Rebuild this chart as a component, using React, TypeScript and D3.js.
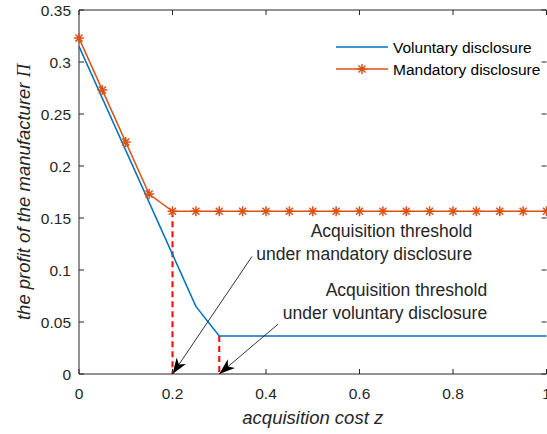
import * as d3 from "d3";

const zValues = [0, 0.05, 0.1, 0.15, 0.2, 0.25, 0.3, 0.35, 0.4, 0.45, 0.5, 0.55, 0.6, 0.65, 0.7, 0.75, 0.8, 0.85, 0.9, 0.95, 1];
const voluntary = [0.315, 0.265, 0.215, 0.165, 0.115, 0.065, 0.0365, 0.0365, 0.0365, 0.0365, 0.0365, 0.0365, 0.0365, 0.0365, 0.0365, 0.0365, 0.0365, 0.0365, 0.0365, 0.0365, 0.0365];
const mandatory = [0.323, 0.273, 0.223, 0.173, 0.1565, 0.1565, 0.1565, 0.1565, 0.1565, 0.1565, 0.1565, 0.1565, 0.1565, 0.1565, 0.1565, 0.1565, 0.1565, 0.1565, 0.1565, 0.1565, 0.1565];
const xTicks = [0, 0.2, 0.4, 0.6, 0.8, 1];
const yTicks = [0, 0.05, 0.1, 0.15, 0.2, 0.25, 0.3, 0.35];

// thresholds: z where each curve flattens, and its profit there
const thresholds = [
  { z: 0.2, value: 0.1565 },
  { z: 0.3, value: 0.0365 },
];

// annotation text + arrow start (data coords)
const notes = [
  { lines: ["Acquisition threshold", "under mandatory disclosure"], textZ: 0.841, textY: [0.1317, 0.11], fromZ: 0.37, fromY: 0.113, toZ: 0.2 },
  { lines: ["Acquisition threshold", "under voluntary disclosure"], textZ: 0.873, textY: [0.0748, 0.0528], fromZ: 0.426, fromY: 0.048, toZ: 0.3 },
];

const W = 547;
const H = 434;
const m = { left: 79, right: 0.5, top: 10, bottom: 60 };
const BLUE = "#0072BD";
const ORANGE = "#D95319";
const FONT = "Arial, 'Liberation Sans', sans-serif";

function asterisk(cx: number, cy: number, r: number) {
  const d = r * Math.SQRT1_2;
  return `M${cx - r},${cy}L${cx + r},${cy}M${cx},${cy - r}L${cx},${cy + r}M${cx - d},${cy - d}L${cx + d},${cy + d}M${cx - d},${cy + d}L${cx + d},${cy - d}`;
}

export default function App() {
  const x = d3.scaleLinear().domain([0, 1]).range([m.left, W - m.right]);
  const y = d3.scaleLinear().domain([0, 0.35]).range([H - m.bottom, m.top]);
  const line = d3.line<number>().x((_, i) => x(zValues[i])).y((v) => y(v));
  const x0 = x.range()[0];
  const x1 = x.range()[1];
  const y0 = y.range()[0];
  const y1 = y.range()[1];
  const axisColor = "#262626";

  return (
    <svg width={W} height={H} style={{ position: "absolute", left: 0, top: 0, background: "#fff" }} fontFamily={FONT}>
      <defs>
        <marker id="head" viewBox="0 0 14 10" refX="14" refY="5" markerWidth="16" markerHeight="12" markerUnits="userSpaceOnUse" orient="auto">
          <path d="M0,0 L14,5 L0,10 L4,5 Z" fill="#000" />
        </marker>
      </defs>
      {/* box */}
      <path d={`M${x0},${y1}H${x1}M${x0},${y1}V${y0}H${x1}`} stroke={axisColor} strokeWidth={1} fill="none" />
      {xTicks.map((t) => (
        <g key={`xt${t}`}>
          <line x1={x(t)} x2={x(t)} y1={y0} y2={y0 - 5} stroke={axisColor} />
          <line x1={x(t)} x2={x(t)} y1={y1} y2={y1 + 5} stroke={axisColor} />
          <text x={x(t)} y={y0 + 25} textAnchor="middle" fontSize={15.5} fill={axisColor}>{t}</text>
        </g>
      ))}
      {yTicks.map((t) => (
        <g key={`yt${t}`}>
          <line x1={x0} x2={x0 + 5} y1={y(t)} y2={y(t)} stroke={axisColor} />
          <line x1={x1} x2={x1 - 5} y1={y(t)} y2={y(t)} stroke={axisColor} />
          <text x={x0 - 8} y={y(t) + 5.5} textAnchor="end" fontSize={15.5} fill={axisColor}>{t}</text>
        </g>
      ))}
      <text x={(x0 + x1) / 2} y={y0 + 50} textAnchor="middle" fontSize={18.5} fontStyle="italic" fill={axisColor}>
        acquisition cost z
      </text>
      <text transform={`translate(30,${(y0 + y1) / 2}) rotate(-90)`} textAnchor="middle" fontSize={18.5} fontStyle="italic" fill={axisColor}>
        the profit of the manufacturer <tspan fontFamily="'Liberation Serif', 'DejaVu Serif', serif">Π</tspan>
      </text>

      {/* threshold dashes */}
      {thresholds.map((t) => (
        <line key={`th${t.z}`} x1={x(t.z)} x2={x(t.z)} y1={y(t.value)} y2={y(0)} stroke="#ff0000" strokeWidth={2} strokeDasharray="6,4" />
      ))}

      <path d={line(voluntary) ?? ""} fill="none" stroke={BLUE} strokeWidth={1.5} />
      <path d={line(mandatory) ?? ""} fill="none" stroke={ORANGE} strokeWidth={1.5} />
      {mandatory.map((v, i) => (
        <path key={`mk${i}`} d={asterisk(x(zValues[i]), y(v), 5)} stroke={ORANGE} strokeWidth={1.5} fill="none" />
      ))}

      {notes.map((n, k) => (
        <g key={`note${k}`}>
          {n.lines.map((s, j) => (
            <text key={j} x={x(n.textZ)} y={y(n.textY[j])} textAnchor="end" fontSize={17.5} fill={axisColor}>{s}</text>
          ))}
          <line x1={x(n.fromZ)} y1={y(n.fromY)} x2={x(n.toZ)} y2={y(0)} stroke="#000" strokeWidth={0.8} markerEnd="url(#head)" />
        </g>
      ))}

      {/* legend */}
      <g>
        <line x1={336} x2={388} y1={47} y2={47} stroke={BLUE} strokeWidth={1.5} />
        <text x={393} y={53} fontSize={15.5} fill="#000">Voluntary disclosure</text>
        <line x1={336} x2={388} y1={69} y2={69} stroke={ORANGE} strokeWidth={1.5} />
        <path d={asterisk(362, 69, 5)} stroke={ORANGE} strokeWidth={1.5} fill="none" />
        <text x={393} y={75} fontSize={15.5} fill="#000">Mandatory disclosure</text>
      </g>
    </svg>
  );
}
